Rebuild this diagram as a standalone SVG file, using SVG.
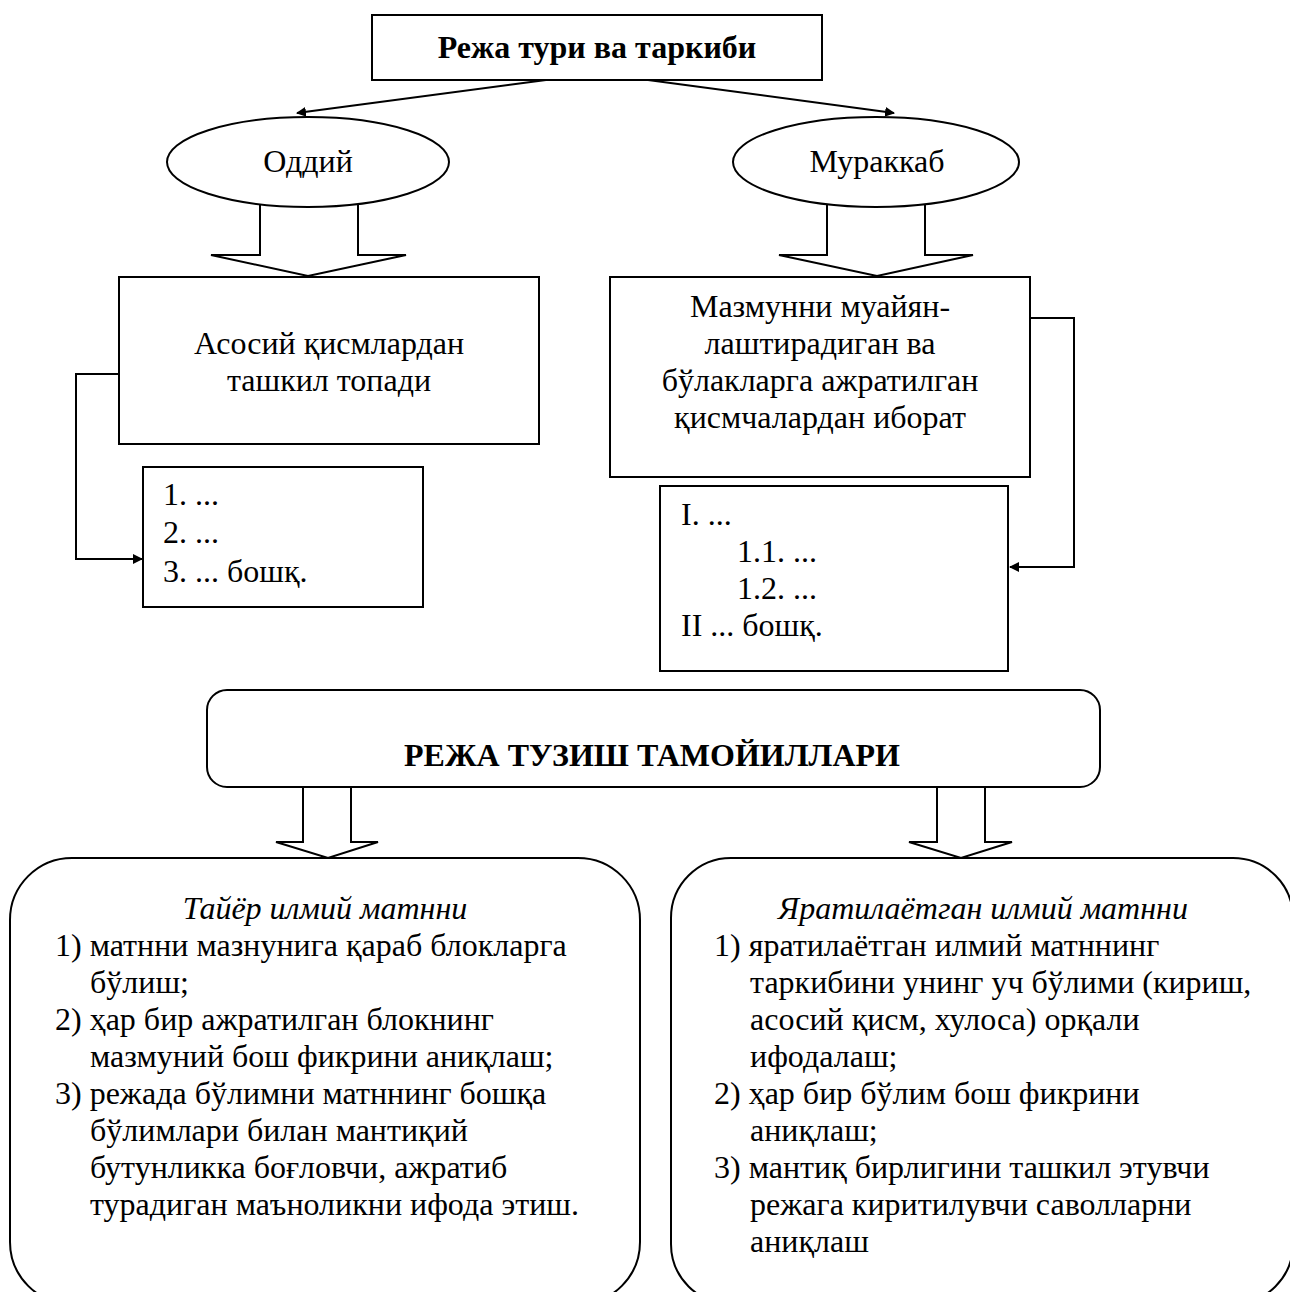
<svg xmlns="http://www.w3.org/2000/svg" width="1290" height="1292" viewBox="0 0 1290 1292">
<style>
.s{fill:#fff;stroke:#000;stroke-width:2}
.t{font-family:"Liberation Serif","Times New Roman",serif;font-size:32px;fill:#000}
.b{font-weight:bold}
.i{font-style:italic}
.c{text-anchor:middle}
.ln{fill:none;stroke:#000;stroke-width:2}
</style>
<defs>
<marker id="ah" markerWidth="10" markerHeight="10" refX="9" refY="5" orient="auto" markerUnits="userSpaceOnUse">
<path d="M0,0 L10,5 L0,10 Z" fill="#000"/>
</marker>
</defs>
<rect width="1290" height="1292" fill="#fff"/>

<g id="connectors">
<line class="ln" x1="546" y1="80" x2="297" y2="113" marker-end="url(#ah)"/>
<line class="ln" x1="648" y1="80" x2="894" y2="113" marker-end="url(#ah)"/>
<polyline class="ln" points="119,374 76,374 76,559 142,559" marker-end="url(#ah)"/>
<polyline class="ln" points="1030,318 1074,318 1074,567 1010,567" marker-end="url(#ah)"/>
<polygon class="s" points="260,190 260,255 211,255 308,276 406,255 358,255 358,190"/>
<polygon class="s" points="827,190 827,255 779,255 877,276 973,255 925,255 925,190"/>
<polygon class="s" points="303,780 303,842 276,842 328,858 378,842 351,842 351,780"/>
<polygon class="s" points="937,780 937,842 909,842 961,858 1012,842 985,842 985,780"/>
</g>

<g id="title">
<rect class="s" x="372" y="15" width="450" height="65"/>
<text class="t b c" x="597" y="58">Режа тури ва таркиби</text>
</g>

<g id="simple">
<ellipse class="s" cx="308" cy="162" rx="141" ry="45"/>
<text class="t c" x="308" y="172">Оддий</text>
</g>

<g id="complex">
<ellipse class="s" cx="876" cy="162" rx="143" ry="45"/>
<text class="t c" x="877" y="172">Мураккаб</text>
</g>

<g id="simple-desc">
<rect class="s" x="119" y="277" width="420" height="167"/>
<text class="t c" x="329" y="354">Асосий қисмлардан</text>
<text class="t c" x="329" y="391">ташкил топади</text>
</g>

<g id="complex-desc">
<rect class="s" x="610" y="277" width="420" height="200"/>
<text class="t c" x="820" y="317">Мазмунни муайян-</text>
<text class="t c" x="820" y="354">лаштирадиган ва</text>
<text class="t c" x="820" y="391">бўлакларга ажратилган</text>
<text class="t c" x="820" y="428">қисмчалардан иборат</text>
</g>

<g id="simple-list">
<rect class="s" x="143" y="467" width="280" height="140"/>
<text class="t" x="163" y="505">1. ...</text>
<text class="t" x="163" y="543">2. ...</text>
<text class="t" x="163" y="582">3. ... бошқ.</text>
</g>

<g id="complex-list">
<rect class="s" x="660" y="486" width="348" height="185"/>
<text class="t" x="681" y="525">I. ...</text>
<text class="t" x="737" y="562">1.1. ...</text>
<text class="t" x="737" y="599">1.2. ...</text>
<text class="t" x="681" y="636">II ... бошқ.</text>
</g>

<g id="principles">
<rect class="s" x="207" y="690" width="893" height="97" rx="20" ry="20"/>
<text class="t b c" x="652" y="766">РЕЖА ТУЗИШ ТАМОЙИЛЛАРИ</text>
</g>

<g id="ready-text">
<rect class="s" x="10" y="858" width="630" height="446" rx="62" ry="62"/>
<text class="t i c" x="325" y="919">Тайёр илмий матнни</text>
<text class="t" x="55" y="956">1) матнни мазнунига қараб блокларга</text>
<text class="t" x="90" y="993">бўлиш;</text>
<text class="t" x="55" y="1030">2) ҳар бир ажратилган блокнинг</text>
<text class="t" x="90" y="1067">мазмуний бош фикрини аниқлаш;</text>
<text class="t" x="55" y="1104">3) режада бўлимни матннинг бошқа</text>
<text class="t" x="90" y="1141">бўлимлари билан мантиқий</text>
<text class="t" x="90" y="1178">бутунликка боғловчи, ажратиб</text>
<text class="t" x="90" y="1215">турадиган маъноликни ифода этиш.</text>
</g>

<g id="created-text">
<rect class="s" x="671" y="858" width="622" height="446" rx="60" ry="60"/>
<text class="t i c" x="983" y="919">Яратилаётган илмий матнни</text>
<text class="t" x="714" y="956">1) яратилаётган илмий матннинг</text>
<text class="t" x="750" y="993">таркибини унинг уч бўлими (кириш,</text>
<text class="t" x="750" y="1030">асосий қисм, хулоса) орқали</text>
<text class="t" x="750" y="1067">ифодалаш;</text>
<text class="t" x="714" y="1104">2) ҳар бир бўлим бош фикрини</text>
<text class="t" x="750" y="1141">аниқлаш;</text>
<text class="t" x="714" y="1178">3) мантиқ бирлигини ташкил этувчи</text>
<text class="t" x="750" y="1215">режага киритилувчи саволларни</text>
<text class="t" x="750" y="1252">аниқлаш</text>
</g>
</svg>
